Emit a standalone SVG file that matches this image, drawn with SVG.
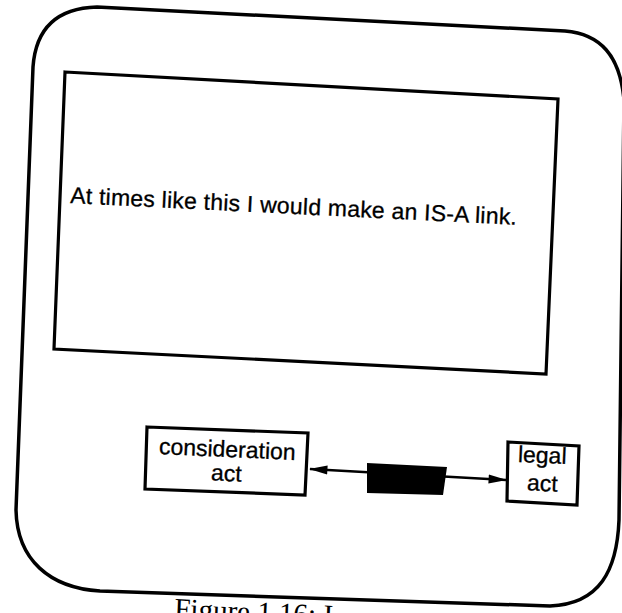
<svg xmlns="http://www.w3.org/2000/svg" width="622" height="613" viewBox="0 0 622 613">
<style>
.frame{fill:none;stroke:#000;stroke-width:3.5;stroke-linejoin:round}
.box{fill:#fff;stroke:#000;stroke-width:3.2;stroke-linejoin:miter}
.lbl{font-family:"Liberation Sans",Arial,Helvetica,sans-serif;font-size:23px;fill:#000;stroke:#000;stroke-width:0.3}
.cap{font-family:"Liberation Serif","Times New Roman",serif;font-size:29px;fill:#000}
.link{fill:none;stroke:#000;stroke-width:2.6}
</style>
<defs>
<marker id="arr" viewBox="0 0 20 12" refX="19" refY="6" markerWidth="19" markerHeight="11" markerUnits="userSpaceOnUse" orient="auto-start-reverse">
<path d="M0,1 L20,6 L0,11 Z" fill="#000"/>
</marker>
</defs>
<rect width="622" height="613" fill="#fff"/>
<g id="frame">
<path class="frame" d="M97,7 L565,31 C600,34 620,55 624,100 L619,520 C617,570 600,604 550,606 L100,591 C50,588 17,560 16,510 L33,67 C36,25 60,8 97,7 Z"/>
</g>
<g id="message">
<path class="box" d="M65,72 L558,99 L546,374 L54,349 Z"/>
<text class="lbl" x="70" y="203" transform="rotate(2.8 70 203)" textLength="447" lengthAdjust="spacing">At times like this I would make an IS-A link.</text>
</g>
<g id="connectors">
<path class="link" d="M310,469 L506,480" marker-start="url(#arr)" marker-end="url(#arr)"/>
</g>
<g id="link-label">
<path d="M367,463 L447,467 L443,495 L367,493 Z" fill="#000"/>
</g>
<g id="consideration-act">
<path class="box" d="M147,427 L308,433 L305,495 L145,489 Z"/>
<text class="lbl" text-anchor="middle" transform="rotate(2.5 227 457)" x="227" y="457">consideration</text>
<text class="lbl" text-anchor="middle" transform="rotate(2.5 226 481)" x="226" y="481">act</text>
</g>
<g id="legal-act">
<path class="box" d="M508,442 L579,446 L577,505 L507,501 Z"/>
<text class="lbl" text-anchor="middle" transform="rotate(2.5 542 463)" x="542" y="463">legal</text>
<text class="lbl" text-anchor="middle" transform="rotate(2.5 542 491)" x="542" y="491">act</text>
</g>
<g id="caption">
<text class="cap" x="174" y="618" transform="rotate(2.5 174 618)">Figure 1.16: I</text>
</g>
</svg>
